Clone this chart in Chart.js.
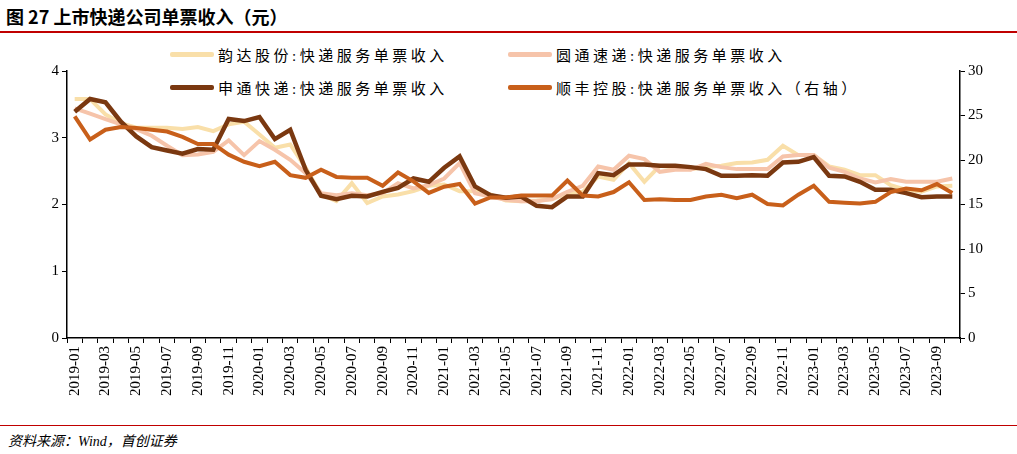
<!DOCTYPE html>
<html><head><meta charset="utf-8">
<script src="https://cdn.jsdelivr.net/npm/chart.js@4"></script>
<style>
body{margin:0;width:1017px;height:454px;background:#fff;position:relative;overflow:hidden;font-family:"Liberation Serif","Noto Sans CJK SC",serif}
#title{position:absolute;left:6px;top:3px;font-size:18px;font-weight:bold;color:#000;font-family:"Noto Sans CJK SC",sans-serif}
#l1{position:absolute;left:0;top:31px;width:1017px;height:2px;background:#C00000}
#l2{position:absolute;left:0;top:425px;width:1017px;height:1px;background:#C00000}
#src{position:absolute;left:8px;top:430px;font-size:14px;font-style:italic;font-family:"Liberation Serif","Noto Sans CJK SC",serif}
#leg{position:absolute;left:170px;top:44px;font-size:15px;font-family:"Liberation Serif","Noto Sans CJK SC",serif;letter-spacing:3.5px}
.it{position:absolute;white-space:nowrap;display:flex;align-items:center}
.sw{display:inline-block;width:44px;height:5px;margin-right:4px;border-radius:2px}
canvas{position:absolute;left:0;top:0}
</style></head><body>
<div id="title">图 27 上市快递公司单票收入（元）</div>
<div id="l1"></div><div id="l2"></div>
<div id="src">资料来源：Wind，首创证券</div>
<div id="leg"></div>
<canvas id="c" width="1017" height="454"></canvas>
<script>
const months=[];for(let y=2019;y<=2023;y++)for(let m=1;m<=12;m++){if(y===2023&&m>10)break;months.push(y+'-'+String(m).padStart(2,'0'));}
const seriesNames=['韵达股份:快递服务单票收入','圆通速递:快递服务单票收入','申通快递:快递服务单票收入','顺丰控股:快递服务单票收入（右轴）'];
const yunda=[3.58,3.58,3.35,3.22,3.15,3.15,3.15,3.13,3.16,3.10,3.20,3.24,3.05,2.85,2.90,2.55,2.15,2.05,2.32,2.02,2.12,2.15,2.20,2.28,2.30,2.20,2.20,2.15,2.06,2.05,2.06,2.08,2.17,2.19,2.42,2.37,2.62,2.34,2.58,2.55,2.53,2.56,2.58,2.62,2.63,2.67,2.88,2.74,2.74,2.57,2.52,2.44,2.44,2.29,2.22,2.19,2.27,2.28];
const yto=[3.44,3.36,3.28,3.20,3.13,3.03,2.88,2.74,2.75,2.79,2.96,2.74,2.95,2.82,2.67,2.47,2.17,2.14,2.17,2.14,2.17,2.32,2.24,2.29,2.39,2.62,2.17,2.12,2.07,2.05,2.05,2.08,2.19,2.28,2.57,2.52,2.73,2.68,2.49,2.52,2.52,2.61,2.56,2.53,2.53,2.53,2.72,2.74,2.74,2.55,2.49,2.39,2.33,2.38,2.34,2.34,2.34,2.39];
const sto=[3.39,3.58,3.53,3.24,3.02,2.86,2.81,2.76,2.83,2.82,3.28,3.25,3.31,2.98,3.12,2.52,2.13,2.08,2.13,2.12,2.19,2.25,2.39,2.34,2.55,2.72,2.27,2.14,2.10,2.12,1.98,1.96,2.12,2.12,2.47,2.44,2.60,2.60,2.58,2.58,2.56,2.53,2.43,2.43,2.44,2.43,2.63,2.64,2.71,2.43,2.42,2.34,2.22,2.22,2.17,2.11,2.12,2.12];
const sf=[24.9,22.3,23.4,23.7,23.6,23.4,23.2,22.6,21.8,21.8,20.6,19.8,19.3,19.8,18.3,18.0,18.9,18.1,18.0,18.0,17.1,18.6,17.6,16.3,17.0,17.3,15.1,15.8,15.8,16.0,16.0,16.0,17.7,16.0,15.9,16.4,17.5,15.5,15.6,15.5,15.5,15.9,16.1,15.7,16.1,15.05,14.9,16.1,17.1,15.3,15.2,15.1,15.3,16.4,16.8,16.6,17.3,16.3];
const leftTicks=[0,1,2,3,4], rightTicks=[0,5,10,15,20,25,30];
const colors=['#F9DFA9','#F6C4AA','#7A3810','#C85F1A'];
const widths=[4,4,4.5,4];
const leg=document.getElementById('leg');
const pos=[[0,0],[338,0],[0,33],[338,33]];
seriesNames.forEach((n,i)=>{const d=document.createElement('div');d.className='it';d.style.left=pos[i][0]+'px';d.style.top=pos[i][1]+'px';d.innerHTML='<span class="sw" style="background:'+colors[i]+'"></span>'+n;leg.appendChild(d);});
const data=[yunda,yto,sto,sf];
new Chart(document.getElementById('c'),{type:'line',
data:{labels:months,datasets:data.map((d,i)=>({label:seriesNames[i],data:d,borderColor:colors[i],backgroundColor:colors[i],borderWidth:widths[i],pointRadius:0,tension:0,yAxisID:i===3?'y1':'y',order:4-i}))},
options:{responsive:false,animation:false,
layout:{padding:{top:71,left:0,right:0,bottom:0}},
plugins:{legend:{display:false},tooltip:{enabled:false}},
scales:{
x:{offset:true,grid:{offset:true,drawOnChartArea:false,color:'#000',tickLength:5},border:{color:'#000',width:1.5},
 ticks:{autoSkip:false,minRotation:90,maxRotation:90,color:'#000',font:{family:'Liberation Serif',size:15},callback:(v,i)=>i%2===0?months[i]:''},
 afterFit:s=>{s.height=116;}},
y:{position:'left',min:0,max:4,afterBuildTicks:s=>{s.ticks=leftTicks.map(v=>({value:v}));},grid:{drawOnChartArea:false,color:'#000',tickLength:5},border:{color:'#000',width:1.5},
 ticks:{color:'#000',font:{family:'Liberation Serif',size:15}},afterFit:s=>{s.width=67;}},
y1:{position:'right',min:0,max:30,afterBuildTicks:s=>{s.ticks=rightTicks.map(v=>({value:v}));},grid:{drawOnChartArea:false,color:'#000',tickLength:5},border:{color:'#000',width:1.5},
 ticks:{color:'#000',font:{family:'Liberation Serif',size:15}},afterFit:s=>{s.width=57;}}
}}});
</script></body></html>
